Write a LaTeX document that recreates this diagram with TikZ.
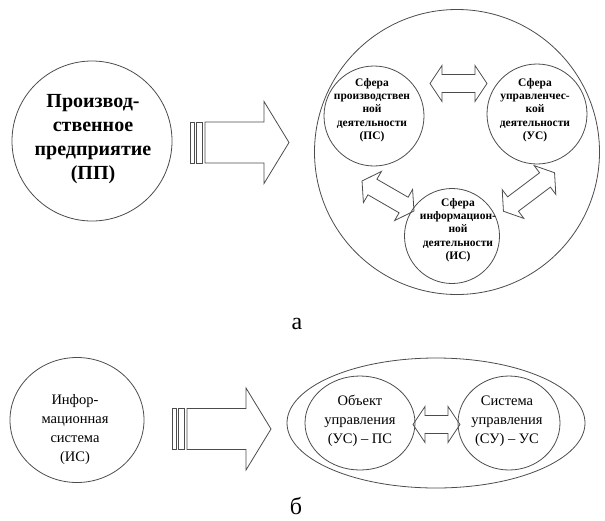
\documentclass[tikz,border=0pt]{standalone}
\usepackage{fontspec}
\setmainfont{Liberation Serif}
\usetikzlibrary{shapes.geometric}

\tikzset{
  shape line/.style={draw=black!70, line width=0.8pt},
  circ/.style={shape line, circle, inner sep=0pt},
  oval/.style={shape line, ellipse, inner sep=0pt},
  bigtext/.style={align=center, inner sep=0pt, font=\bfseries\fontsize{20}{24}\selectfont},
  sphtext/.style={align=center, inner sep=0pt, font=\bfseries\fontsize{11.5}{13.3}\selectfont},
  systext/.style={align=center, inner sep=0pt, font=\fontsize{14.5}{19}\selectfont},
  partlabel/.style={inner sep=0pt, font=\fontsize{24}{24}\selectfont},
  blockarrow/.pic={
    \draw[shape line] (-14.5,-20.5) rectangle (-11,20.5);
    \draw[shape line] (-8.5,-20.5) rectangle (-2.5,20.5);
    \draw[shape line] (0,-20.5) -- (59,-20.5) -- (59,-41) -- (84,0) -- (59,41) -- (59,20.5) -- (0,20.5) -- cycle;
  },
  dblarrow/.pic={
    \draw[shape line] (-#1,0) -- (-#1+12,-18) -- (-#1+12,-9) -- (#1-12,-9) -- (#1-12,-18) -- (#1,0)
      -- (#1-12,18) -- (#1-12,9) -- (-#1+12,9) -- (-#1+12,18) -- cycle;
  }
}

\begin{document}
\begin{tikzpicture}[x=1pt, y=-1pt]
\useasboundingbox (0,0) rectangle (605,520);

% a
\node[circ, minimum size=160pt] (pp) at (92,141) {};
\node[bigtext] (pp-t) at (93,139) {Производ-\\ственное\\предприятие\\(ПП)};
\pic at (205,142.5) {blockarrow};

\node[circ, minimum size=285pt] (sph) at (457,152) {};
\node[circ, minimum size=100pt] (ps) at (374,116) {};
\node[circ, minimum size=100pt] (us) at (537,114) {};
\node[circ, minimum size=95pt] (is) at (452,236) {};
\node[sphtext] (ps-t) at (372,110) {Сфера\\производствен\\ной\\деятельности\\(ПС)};
\node[sphtext] (us-t) at (535,110) {Сфера\\управленчес-\\кой\\деятельности\\(УС)};
\node[sphtext] (is-t) at (458,230) {Сфера\\информацион-\\ной\\деятельности\\(ИС)};
\pic at (458.5,83.5) {dblarrow=28.5};
\pic[rotate=-30] at (388,196) {dblarrow=30};
\pic[rotate=37] at (529,192) {dblarrow=32};

\node[partlabel] (lbl-a) at (297,324) {а};

% b
\node[oval, minimum width=134pt, minimum height=125pt] (ins) at (77,420) {};
\node[systext] (ins-t) at (75,430) {Инфор-\\мационная\\система\\(ИС)};
\pic at (187,429) {blockarrow};

\node[oval, minimum width=298pt, minimum height=130pt] (ctl) at (436,423) {};
\node[oval, minimum width=110pt, minimum height=94pt] (obj) at (360,423) {};
\node[oval, minimum width=102pt, minimum height=94pt] (su) at (509,423) {};
\node[systext] (obj-t) at (360,421) {Объект\\управления\\(УС) – ПС};
\node[systext] (su-t) at (507,421) {Система\\управления\\(СУ) – УС};
\pic at (436.5,424.5) {dblarrow=23.5};

\node[partlabel] (lbl-b) at (296,506) {б};
\end{tikzpicture}
\end{document}
